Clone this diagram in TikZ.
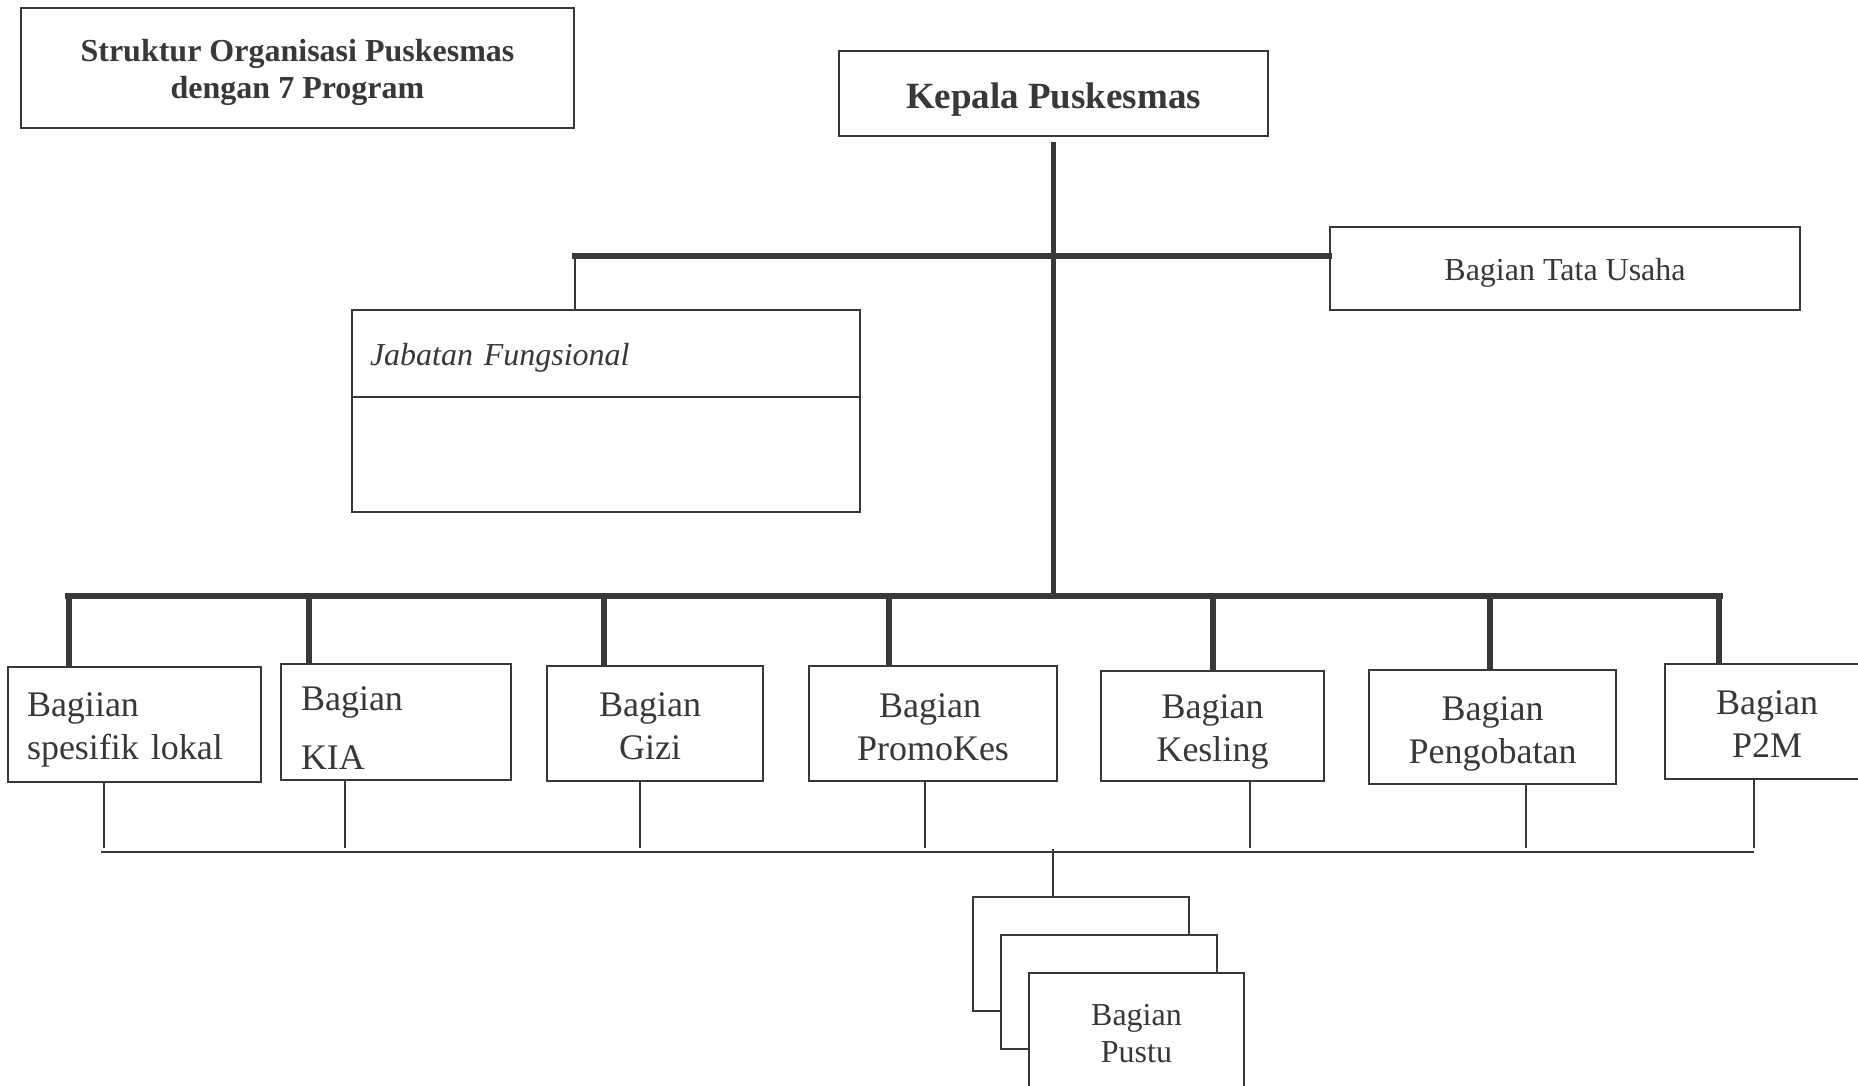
\documentclass[tikz,border=0pt]{standalone}
\usepackage{fontspec}
\setmainfont{Liberation Serif}
\usepackage{xcolor}
\definecolor{ink}{gray}{0.22}
\newcommand{\padtop}[1]{\rule{0pt}{#1}}

\begin{document}
\begin{tikzpicture}[x=0.5pt,y=-0.5pt,
  box/.style={draw=ink,line width=1pt,fill=white,text=ink,inner sep=0pt,align=center},
  unit/.style={box,font=\fontsize{18pt}{21.5pt}\selectfont},
  bar/.style={draw=ink,line width=2.7pt},
  wire/.style={draw=ink,line width=0.75pt}]
\path[use as bounding box] (0,0) rectangle (1858,1086);
\fill[white] (0,0) rectangle (1858,1086);
\clip (0,0) rectangle (1858,1086);
% Drawing top boxes
\node[box,minimum width=276.5pt,minimum height=60pt,font=\bfseries\fontsize{16pt}{18.5pt}\selectfont] (judul) at (297.5,68) {\padtop{15.6pt}Struktur Organisasi Puskesmas\\dengan 7 Program};
\node[box,minimum width=214.5pt,minimum height=42.5pt,font=\bfseries\fontsize{18.5pt}{22pt}\selectfont] (kepala) at (1053.5,93.5) {\padtop{18.5pt}Kepala Puskesmas};
\node[box,minimum width=235pt,minimum height=41.5pt,font=\fontsize{16pt}{19pt}\selectfont] (tu) at (1565,268.5) {\padtop{15.6pt}Bagian Tata Usaha};
\node[box,text width=236pt,inner xsep=9pt,minimum height=43.5pt,align=left,font=\itshape\fontsize{16pt}{19pt}\selectfont] (jabhead) at (606,353.5) {\padtop{15.7pt}Jabatan Fungsional};
\node[box,minimum width=254pt,minimum height=57.5pt] (jabbody) at (606,454.5) {};
% Drawing program boxes
\node[unit,text width=107.5pt,inner xsep=9.5pt,minimum height=57.5pt,align=left] (lokal) at (134.5,724.5) {\padtop{17.1pt}Bagiian\\spesifik lokal};
\node[unit,text width=95pt,inner xsep=10pt,minimum height=58pt,align=left] (kia) at (396,722) {\padtop{17.7pt}Bagian\\[8pt]KIA};
\node[unit,minimum width=108pt,minimum height=57.5pt] (gizi) at (655,723.5) {\padtop{14.7pt}Bagian\hspace*{5pt}\\Gizi\hspace*{5pt}};
\node[unit,minimum width=124pt,minimum height=57.5pt] (promkes) at (933,723.5) {\padtop{15.9pt}Bagian\hspace*{3pt}\\PromoKes};
\node[unit,minimum width=111.5pt,minimum height=55pt] (kesling) at (1212.5,726) {\padtop{18.3pt}Bagian\\Kesling};
\node[unit,minimum width=123.5pt,minimum height=57pt] (obat) at (1492.5,727) {\padtop{18.9pt}Bagian\\Pengobatan};
\node[unit,minimum width=102pt,minimum height=57.5pt] (ptm) at (1767,721.5) {\padtop{14.7pt}Bagian\\P2M};
% Drawing pustu stack
\node[box,minimum width=108pt,minimum height=57pt] (pustuA) at (1081,954) {};
\node[box,minimum width=108pt,minimum height=57pt] (pustuB) at (1109,992) {};
\node[box,minimum width=107.5pt,minimum height=58pt,font=\fontsize{16pt}{18.5pt}\selectfont] (pustuC) at (1136.5,1031) {\padtop{13.3pt}Bagian\\Pustu};
% Done with boxes; drawing thick lines
\coordinate (jf) at (575,256);
\coordinate (busL) at (68,596);
\coordinate (busR) at (1720,596);
\draw[bar] ([yshift=-2.5pt]kepala.south) -- (kepala.south |- busL);
\draw[bar,line cap=rect] (jf) -- (jf -| tu.west);
\draw[wire,line width=1pt] (jf) -- (jf |- jabhead.north);
\draw[bar,line cap=rect] (busL) -- (busR);
\coordinate (d1) at (69,596);
\coordinate (d2) at (309,596);
\coordinate (d3) at (604,596);
\coordinate (d4) at (889,596);
\coordinate (d5) at (1213,596);
\coordinate (d6) at (1490,596);
\coordinate (d7) at (1719,596);
\draw[bar] (d1) -- (d1 |- lokal.north);
\draw[bar] (d2) -- (d2 |- kia.north);
\draw[bar] (d3) -- (d3 |- gizi.north);
\draw[bar] (d4) -- (d4 |- promkes.north);
\draw[bar] (d5) -- (d5 |- kesling.north);
\draw[bar] (d6) -- (d6 |- obat.north);
\draw[bar] (d7) -- (d7 |- ptm.north);
% Drawing thin lines
\coordinate (tapL) at (101,852);
\coordinate (tapR) at (1754,852);
\draw[wire] (tapL) -- (tapR);
\coordinate (t1) at (104,848);
\coordinate (t2) at (345,848);
\coordinate (t3) at (640,848);
\coordinate (t4) at (925,848);
\coordinate (t5) at (1250,848);
\coordinate (t6) at (1526,848);
\coordinate (t7) at (1754,848);
\draw[wire] (lokal.south -| t1) -- (t1);
\draw[wire] (kia.south -| t2) -- (t2);
\draw[wire] (gizi.south -| t3) -- (t3);
\draw[wire] (promkes.south -| t4) -- (t4);
\draw[wire] (kesling.south -| t5) -- (t5);
\draw[wire] (obat.south -| t6) -- (t6);
\draw[wire] (ptm.south -| t7) -- (t7);
\coordinate (tapP) at (1053,849);
\draw[wire] (tapP) -- (tapP |- pustuA.north);
% Done
\end{tikzpicture}
\end{document}
